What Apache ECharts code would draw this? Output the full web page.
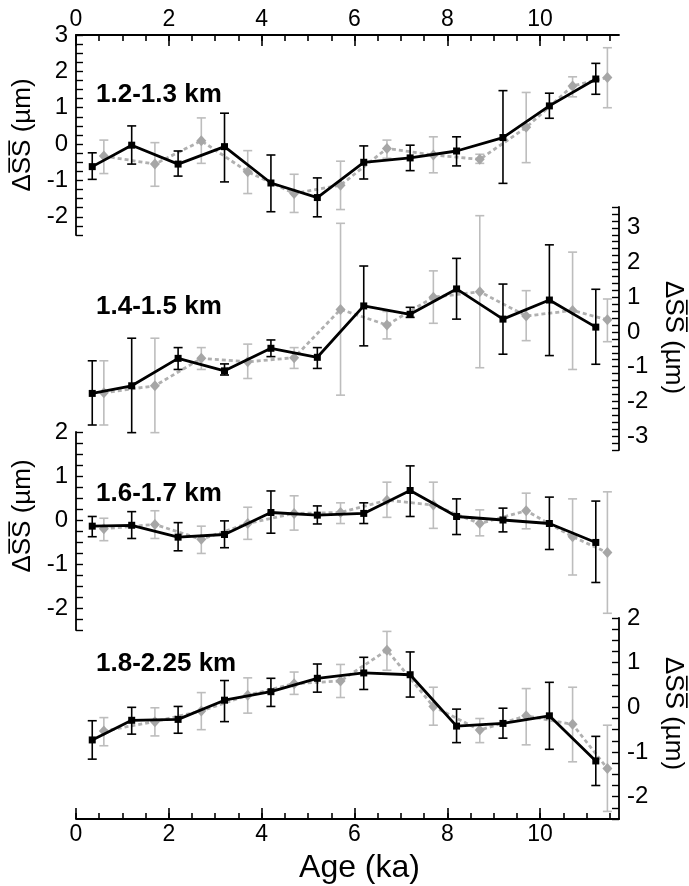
<!DOCTYPE html>
<html>
<head>
<meta charset="utf-8">
<script src="https://cdn.jsdelivr.net/npm/echarts@6/dist/echarts.min.js"></script>
<style>
  html, body { margin: 0; padding: 0; background: #fff; }
  #chart { width: 689px; height: 886px; }
</style>
</head>
<body>
<div id="chart"></div>
<script>
// ages of the two sample sets (ka)
const blackAge = [0.35, 1.2, 2.2, 3.2, 4.2, 5.2, 6.2, 7.2, 8.2, 9.2, 10.2, 11.2];
const grayAge = [0.6, 1.7, 2.7, 3.7, 4.7, 5.7, 6.7, 7.7, 8.7, 9.7, 10.7, 11.45];

const depthLabels = ['1.2-1.3 km', '1.4-1.5 km', '1.6-1.7 km', '1.8-2.25 km'];
const xTickLabels = [0, 2, 4, 6, 8, 10];
const xMinorTicks = [0, 0.5, 1, 1.5, 2, 2.5, 3, 3.5, 4, 4.5, 5, 5.5, 6, 6.5, 7, 7.5, 8, 8.5, 9, 9.5, 10, 10.5, 11, 11.5];
const yLabels1 = [-2, -1, 0, 1, 2, 3];
const yLabels2 = [-3, -2, -1, 0, 1, 2, 3];
const yLabels3 = [-2, -1, 0, 1, 2];
const yLabels4 = [-2, -1, 0, 1, 2];

// 1.2-1.3 km
const p1Black = [-0.62, -0.03, -0.55, -0.07, -1.07, -1.47, -0.5, -0.38, -0.19, 0.18, 1.05, 1.79];
const p1BlackLo = [-0.97, -0.55, -0.88, -1.04, -1.86, -2.0, -0.96, -0.73, -0.6, -1.08, 0.71, 1.37];
const p1BlackHi = [-0.24, 0.5, -0.19, 0.85, -0.3, -0.93, -0.05, -0.03, 0.2, 1.47, 1.4, 2.22];
const p1Gray = [-0.33, -0.55, 0.09, -0.76, -1.36, -1.13, -0.12, -0.3, -0.42, 0.46, 1.6, 1.83];
const p1GrayLo = [-0.81, -1.16, -0.53, -1.36, -1.88, -1.8, -0.39, -0.79, -0.53, -0.51, 1.3, 1.0];
const p1GrayHi = [0.11, 0.04, 0.72, -0.18, -0.83, -0.47, 0.11, 0.2, -0.28, 1.42, 1.85, 2.65];

// 1.4-1.5 km
const p2Black = [-1.77, -1.55, -0.76, -1.12, -0.47, -0.73, 0.75, 0.51, 1.24, 0.37, 0.92, 0.14];
const p2BlackLo = [-2.68, -2.9, -1.08, -1.24, -0.71, -1.05, -0.4, 0.42, 0.37, -0.64, -0.68, -0.93];
const p2BlackHi = [-0.83, -0.18, -0.45, -0.92, -0.23, -0.45, 1.9, 0.71, 2.12, 1.38, 2.51, 1.23];
const p2Gray = [-1.75, -1.55, -0.76, -0.86, -0.74, 0.65, 0.2, 1.0, 1.16, 0.46, 0.62, 0.35];
const p2GrayLo = [-2.68, -2.9, -1.08, -1.34, -1.05, -1.82, -0.2, 0.25, -1.03, -0.25, -1.08, -0.28];
const p2GrayHi = [-0.83, -0.18, -0.45, -0.35, -0.45, 3.13, 0.59, 1.76, 3.35, 1.19, 2.3, 0.95];

// 1.6-1.7 km
const p3Black = [-0.14, -0.12, -0.39, -0.33, 0.17, 0.11, 0.15, 0.67, 0.08, 0.0, -0.08, -0.51];
const p3BlackLo = [-0.38, -0.42, -0.7, -0.63, -0.3, -0.09, -0.08, 0.08, -0.33, -0.27, -0.67, -1.42];
const p3BlackHi = [0.08, 0.19, -0.06, -0.02, 0.66, 0.32, 0.39, 1.23, 0.48, 0.27, 0.52, 0.43];
const p3Gray = [-0.2, -0.1, -0.44, -0.08, 0.15, 0.17, 0.45, 0.34, -0.08, 0.21, -0.38, -0.74];
const p3GrayLo = [-0.47, -0.42, -0.76, -0.44, -0.23, -0.08, 0.06, -0.19, -0.36, -0.2, -1.25, -2.12];
const p3GrayHi = [0.04, 0.21, -0.14, 0.29, 0.55, 0.39, 0.86, 0.86, 0.23, 0.61, 0.48, 0.64];

// 1.8-2.25 km
const p4Black = [-0.73, -0.29, -0.27, 0.16, 0.35, 0.65, 0.77, 0.73, -0.42, -0.36, -0.19, -1.2];
const p4BlackLo = [-1.16, -0.6, -0.58, -0.32, 0.02, 0.34, 0.4, 0.23, -0.79, -0.69, -0.94, -1.75];
const p4BlackHi = [-0.3, 0.0, 0.02, 0.6, 0.65, 0.97, 1.12, 1.24, -0.04, -0.02, 0.56, -0.65];
const p4Gray = [-0.53, -0.32, -0.08, 0.27, 0.53, 0.59, 1.28, 0.02, -0.51, -0.19, -0.38, -1.37];
const p4GrayLo = [-0.86, -0.64, -0.5, -0.13, 0.29, 0.22, 0.83, -0.4, -0.79, -0.84, -1.22, -2.33];
const p4GrayHi = [-0.23, -0.01, 0.33, 0.66, 0.79, 0.96, 1.7, 0.45, -0.25, 0.42, 0.45, -0.4];

const panels = [
    { black: p1Black, blackLo: p1BlackLo, blackHi: p1BlackHi, gray: p1Gray, grayLo: p1GrayLo, grayHi: p1GrayHi, yLabels: yLabels1 },
    { black: p2Black, blackLo: p2BlackLo, blackHi: p2BlackHi, gray: p2Gray, grayLo: p2GrayLo, grayHi: p2GrayHi, yLabels: yLabels2 },
    { black: p3Black, blackLo: p3BlackLo, blackHi: p3BlackHi, gray: p3Gray, grayLo: p3GrayLo, grayHi: p3GrayHi, yLabels: yLabels3 },
    { black: p4Black, blackLo: p4BlackLo, blackHi: p4BlackHi, gray: p4Gray, grayLo: p4GrayLo, grayHi: p4GrayHi, yLabels: yLabels4 }
];

// layout of the stacked panels
const gridTop = [35, 207, 432, 618];
const gridHeight = [200, 243, 198, 201];
const yMin = [-2.5, -3.4, -2.5, -2.5];
const yMax = [3, 3.6, 2, 2];
const yStep = [0.25, 0.2, 0.25, 0.25];
const ySide = ['left', 'right', 'left', 'right'];
const nameShift = [[0, 0, 0, 0], [0, 0, 0, 18], [0, 0, 0, 30], [0, 10, 0, 0]];
const labelY = [95, 307, 494, 664];

const FONT = 'Liberation Sans, Arial, sans-serif';
const GRAY_LINE = '#b0b0b0';
const GRAY_MARK = '#a6a6a6';
const GRAY_ERR = '#bdbdbd';

function errBar(color) {
    return function (params, api) {
        const x = api.value(0);
        const lo = api.coord([x, api.value(1)]);
        const hi = api.coord([x, api.value(2)]);
        const half = 4.5;
        const style = { stroke: color, lineWidth: 1.6 };
        return {
            type: 'group',
            children: [
                { type: 'line', shape: { x1: lo[0], y1: lo[1], x2: hi[0], y2: hi[1] }, style: style },
                { type: 'line', shape: { x1: lo[0] - half, y1: lo[1], x2: lo[0] + half, y2: lo[1] }, style: style },
                { type: 'line', shape: { x1: hi[0] - half, y1: hi[1], x2: hi[0] + half, y2: hi[1] }, style: style }
            ]
        };
    };
}

const grids = gridTop.map((t, i) => ({ left: 76, width: 543, top: t, height: gridHeight[i], outerBoundsMode: 'none' }));

const axisLineStyle = { show: true, onZero: false, lineStyle: { color: '#000', width: 1.8 } };

function xAxisFor(grid, position, major) {
    return {
        type: 'value', gridIndex: grid, position: position, min: 0, max: 11.7,
        axisLine: major ? axisLineStyle : { show: false, onZero: false },
        splitLine: { show: false },
        axisTick: {
            show: true, inside: true, length: major ? 11 : 6,
            customValues: major ? xTickLabels : xMinorTicks,
            lineStyle: { color: '#000', width: 1.6 }
        },
        axisLabel: major ? {
            show: true, customValues: xTickLabels, color: '#000', fontSize: 23, fontFamily: FONT, margin: 4
        } : { show: false }
    };
}

const xAxes = [
    xAxisFor(0, 'top', true),
    xAxisFor(0, 'top', false),
    { type: 'value', gridIndex: 1, min: 0, max: 11.7, show: false },
    { type: 'value', gridIndex: 2, min: 0, max: 11.7, show: false },
    Object.assign(xAxisFor(3, 'bottom', true), {
        name: 'Age (ka)', nameLocation: 'middle', nameGap: 33,
        nameTextStyle: { color: '#000', fontSize: 32, fontFamily: FONT, padding: [0, 0, 0, 24] }
    }),
    xAxisFor(3, 'bottom', false)
];
const xIndexOf = [0, 2, 3, 4];

const yAxes = panels.map((p, i) => ({
    type: 'value', gridIndex: i, position: ySide[i],
    min: yMin[i], max: yMax[i], interval: yStep[i],
    axisLine: axisLineStyle,
    splitLine: { show: false },
    axisTick: { show: true, inside: true, length: 7, lineStyle: { color: '#000', width: 1.4 } },
    axisLabel: { show: true, customValues: p.yLabels, color: '#000', fontSize: 24, fontFamily: FONT, margin: 8 },
    name: 'ΔS\u0305S\u0305 (µm)',
    nameLocation: 'middle',
    nameGap: ySide[i] === 'left' ? 38 : 41,
    nameRotate: ySide[i] === 'left' ? 90 : -90,
    nameTextStyle: { color: '#000', fontSize: 26, fontFamily: FONT, padding: nameShift[i] }
}));

const series = [];
panels.forEach((p, i) => {
    const xi = xIndexOf[i];
    series.push({
        type: 'custom', xAxisIndex: xi, yAxisIndex: i, z: 1,
        renderItem: errBar(GRAY_ERR), encode: { x: 0, y: [1, 2] },
        data: grayAge.map((a, k) => [a, p.grayLo[k], p.grayHi[k]])
    });
    series.push({
        type: 'line', xAxisIndex: xi, yAxisIndex: i, z: 2,
        symbol: 'diamond', symbolSize: [10, 11],
        lineStyle: { color: GRAY_LINE, width: 2.8, type: [4, 3] },
        itemStyle: { color: GRAY_MARK },
        data: grayAge.map((a, k) => [a, p.gray[k]])
    });
    series.push({
        type: 'custom', xAxisIndex: xi, yAxisIndex: i, z: 3,
        renderItem: errBar('#000'), encode: { x: 0, y: [1, 2] },
        data: blackAge.map((a, k) => [a, p.blackLo[k], p.blackHi[k]])
    });
    series.push({
        type: 'line', xAxisIndex: xi, yAxisIndex: i, z: 4,
        symbol: 'rect', symbolSize: 7,
        lineStyle: { color: '#000', width: 2.8 },
        itemStyle: { color: '#000' },
        data: blackAge.map((a, k) => [a, p.black[k]])
    });
});

const labels = depthLabels.map((t, i) => ({
    type: 'text', x: 96, y: labelY[i], z: 10,
    style: { text: t, fill: '#000', font: 'bold 26px ' + FONT, verticalAlign: 'middle' }
}));

const chart = echarts.init(document.getElementById('chart'));
chart.setOption({
    animation: false,
    backgroundColor: '#fff',
    textStyle: { fontFamily: FONT },
    grid: grids,
    xAxis: xAxes,
    yAxis: yAxes,
    series: series,
    graphic: labels
});
</script>
</body>
</html>
